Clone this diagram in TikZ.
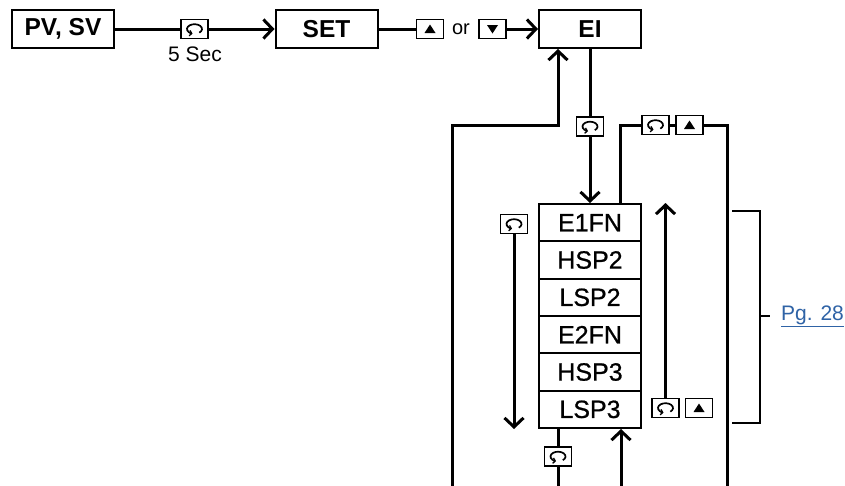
\documentclass[tikz,border=0pt]{standalone}
\usepackage{fontspec}
\setmainfont{Liberation Sans}
\newfontfamily\medfont[FakeBold=0.8]{Liberation Sans}
\usetikzlibrary{arrows.meta,calc}
\definecolor{linkblue}{HTML}{2F63A6}
\tikzset{
  box/.style={draw, line width=2pt, minimum width=102pt, minimum height=38pt, inner sep=0pt, font=\bfseries\fontsize{24.5}{24.5}\selectfont},
  row/.style={draw, line width=2pt, minimum width=102pt, minimum height=37.33pt, inner sep=0pt, font=\medfont\fontsize{25}{25}\selectfont},
  keybox/.style={draw, line width=1.6pt, minimum width=27pt, minimum height=19pt, inner sep=0pt, fill=white},
  loopkey/.style={keybox, path picture={
      \draw[black, line width=1.7pt, -{Straight Barb[length=2.2pt,width=5.5pt,line width=1.3pt]}]
        ([shift={(-50:7.5pt and 4.8pt)}]path picture bounding box.center)
        arc[start angle=-50, end angle=255, x radius=7.5pt, y radius=4.8pt];}},
  upkey/.style={keybox, path picture={
      \fill[black] ([shift={(0pt,4.5pt)}]path picture bounding box.center) -- ([shift={(-5.5pt,-4pt)}]path picture bounding box.center) -- ([shift={(5.5pt,-4pt)}]path picture bounding box.center) -- cycle;}},
  downkey/.style={keybox, path picture={
      \fill[black] ([shift={(0pt,-4.5pt)}]path picture bounding box.center) -- ([shift={(-5.5pt,4pt)}]path picture bounding box.center) -- ([shift={(5.5pt,4pt)}]path picture bounding box.center) -- cycle;}},
  conn/.style={line width=3pt},
  arr/.style={conn, -{Straight Barb[length=9pt,width=19pt]}},
  brk/.style={line width=2.2pt},
  lbl/.style={inner sep=0pt, font=\fontsize{21}{21}\selectfont}
}
\begin{document}
\begin{tikzpicture}[x=1pt, y=-1pt]
\useasboundingbox[fill=white] (0,0) rectangle (845,485);
% top row
\node[box] (pvsv) at (63,29) {PV, SV};
\node[box] (set) at (326.5,29) {SET};
\node[box] (ei) at (590,29) {EI};
\node[loopkey] (k1) at (194.5,29) {};
\node[lbl, anchor=north] (sec) at (195,47) {5 Sec};
\node[upkey] (ku) at (430,29) {};
\node[lbl, font=\fontsize{20}{20}\selectfont] (or) at (461,29) {or};
\node[downkey] (kd) at (492.5,29) {};
% stack
\node[row] (r1) at (590,222.67) {E1FN};
\node[row] (r2) at (590,260) {HSP2};
\node[row] (r3) at (590,297.33) {LSP2};
\node[row] (r4) at (590,334.67) {E2FN};
\node[row] (r5) at (590,372) {HSP3};
\node[row] (r6) at (590,409.33) {LSP3};
% keys
\node[loopkey] (k2) at (590,126.5) {};
\node[loopkey] (k3) at (655.5,125) {};
\node[upkey] (k4) at (689.5,125) {};
\node[loopkey] (k5) at (514,224) {};
\node[loopkey] (k6) at (665.5,408) {};
\node[upkey] (k7) at (699,408) {};
\node[loopkey] (k8) at (558,456.5) {};
% free ends
\coordinate (bl) at (452,487);
\coordinate (lt) at (558,125);
\coordinate (rt) at (620,125);
\coordinate (br) at (727,487);
\coordinate (bd) at (558,487);
\coordinate (bu) at (621,487);
% connectors top row
\draw[conn] (pvsv.east) -- (k1.west);
\draw[arr] (k1.east) -- (set.west);
\draw[conn] (set.east) -- (ku.west);
\draw[arr] (kd.east) -- (ei.west);
% EI down to stack
\draw[conn] (ei.south) -- (k2.north);
\draw[arr] (k2.south) -- (r1.north);
% return to EI
\draw[arr] (bl) |- (lt) -- (lt |- ei.south);
% right loop
\draw[conn] (rt |- r1.north) -- (rt) -- (k3.west);
\draw[conn] (k3.east) -- (k4.west);
\draw[conn] (k4.east) -| (br);
% left down arrow
\draw[arr] (k5.south) -- (k5.south |- r6.south);
% right up arrow
\draw[arr] (k6.north) -- (k6.north |- r1.north);
% bottom
\draw[conn] (bd |- r6.south) -- (k8.north);
\draw[conn] (k8.south) -- (bd);
\draw[arr] (bu) -- (bu |- r6.south);
% bracket
\coordinate (bt) at (732,211);
\coordinate (bb) at (732,423);
\coordinate (bm) at (760,316);
\draw[brk] (bt) -| (bm) |- (bb);
\draw[brk] (bm) -- ++(10,0) coordinate (bmr);
\node[lbl, anchor=west, text=linkblue, inner sep=0pt] (pg) at ([xshift=11pt]bmr) {\underline{Pg. 28}};
\end{tikzpicture}
\end{document}
